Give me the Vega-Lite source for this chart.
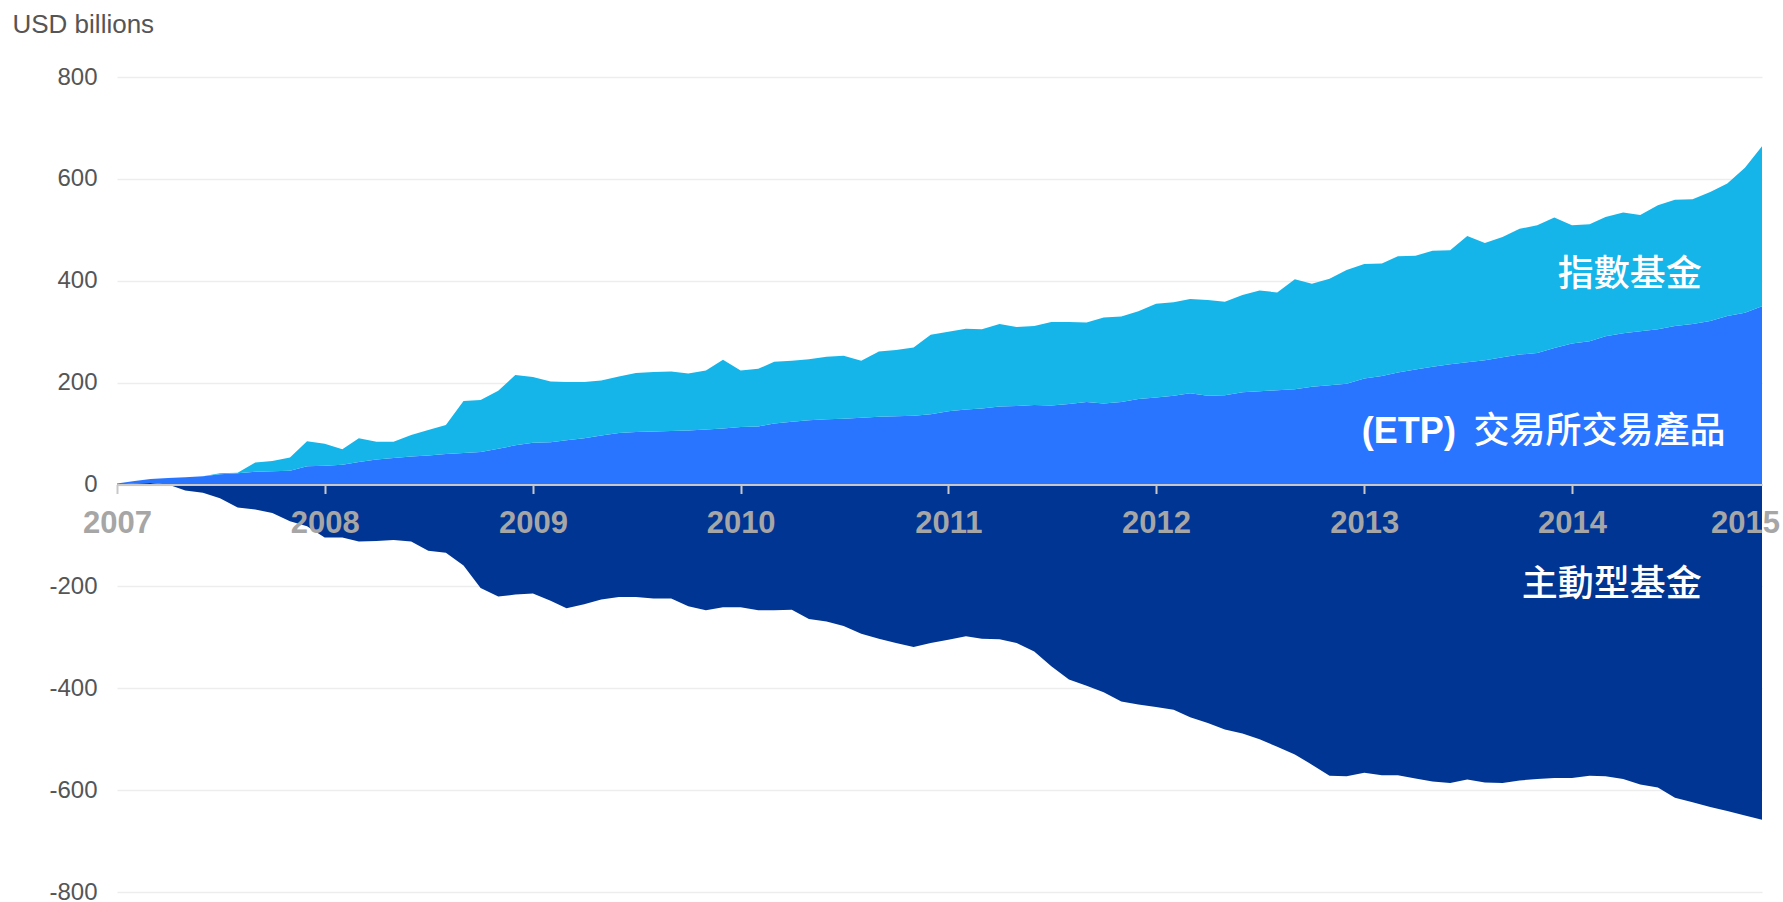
{
  "$schema": "https://vega.github.io/schema/vega-lite/v6.json",
  "width": 1645,
  "height": 815,
  "autosize": {"type": "none"},
  "padding": {"left": 117, "top": 77, "right": 21, "bottom": 10},
  "background": "white",
  "config": {"view": {"stroke": null}, "font": "Liberation Sans"},
  "encoding": {
    "x": {
      "field": "d",
      "type": "temporal",
      "scale": {"domain": [{"year": 2007, "month": 1, "date": 1}, {"year": 2014, "month": 12, "date": 1}]},
      "axis": {
        "values": [
          {"year": 2007, "month": 1, "date": 1},
          {"year": 2008, "month": 1, "date": 1},
          {"year": 2009, "month": 1, "date": 1},
          {"year": 2010, "month": 1, "date": 1},
          {"year": 2011, "month": 1, "date": 1},
          {"year": 2012, "month": 1, "date": 1},
          {"year": 2013, "month": 1, "date": 1},
          {"year": 2014, "month": 1, "date": 1},
          {"year": 2014, "month": 11, "date": 1}
        ],
        "title": null,
        "offset": -407.5,
        "zindex": 1,
        "grid": false,
        "domainColor": "#c8c8c8",
        "domainWidth": 2,
        "tickColor": "#c8c8c8",
        "tickWidth": 2,
        "tickSize": 9,
        "tickOpacity": {"condition": {"test": "month(datum.value) == 10", "value": 0}, "value": 1},
        "labelFont": "Liberation Sans",
        "labelFontSize": 31,
        "labelFontWeight": "bold",
        "labelColor": "#a6a6a6",
        "labelBaseline": "alphabetic",
        "labelAlign": "center",
        "labelPadding": 39,
        "labelOverlap": false,
        "labelFlush": false,
        "labelBound": false,
        "labelExpr": "month(datum.value) == 10 ? '2015' : timeFormat(datum.value, '%Y')"
      }
    },
    "y": {
      "field": "value",
      "type": "quantitative",
      "scale": {"domain": [-800, 800]},
      "axis": {
        "values": [-800, -600, -400, -200, 0, 200, 400, 600, 800],
        "labelExpr": "toString(datum.value)",
        "title": "USD billions",
        "titleAngle": 0,
        "titleAlign": "left",
        "titleBaseline": "alphabetic",
        "titleX": -105,
        "titleY": -45,
        "titleFont": "Liberation Sans",
        "titleFontSize": 26,
        "titleFontWeight": "normal",
        "titleColor": "#555555",
        "domain": false,
        "ticks": false,
        "tickSize": 0,
        "labelPadding": 20,
        "labelFont": "Liberation Sans",
        "labelFontSize": 24,
        "labelColor": "#555555",
        "gridColor": "#ededed",
        "gridWidth": 1.5,
        "zindex": 0
      }
    }
  },
  "layer": [
    {
      "data": {
        "values": [
          {"d": "2007/01/01", "etp": 2, "index": 0, "active": 0},
          {"d": "2007/02/01", "etp": 5, "index": 0, "active": 2},
          {"d": "2007/03/01", "etp": 8, "index": 0, "active": 3},
          {"d": "2007/04/01", "etp": 13, "index": 0, "active": 0},
          {"d": "2007/05/01", "etp": 14, "index": 0, "active": -12},
          {"d": "2007/06/01", "etp": 16, "index": 0, "active": -16},
          {"d": "2007/07/01", "etp": 20, "index": 2, "active": -27},
          {"d": "2007/08/01", "etp": 22, "index": 1, "active": -45},
          {"d": "2007/09/01", "etp": 25, "index": 18, "active": -49},
          {"d": "2007/10/01", "etp": 26, "index": 20, "active": -56},
          {"d": "2007/11/01", "etp": 27, "index": 26, "active": -72},
          {"d": "2007/12/01", "etp": 36, "index": 49, "active": -82},
          {"d": "2008/01/01", "etp": 37, "index": 43, "active": -104},
          {"d": "2008/02/01", "etp": 39, "index": 30, "active": -104},
          {"d": "2008/03/01", "etp": 44, "index": 47, "active": -112},
          {"d": "2008/04/01", "etp": 49, "index": 35, "active": -111},
          {"d": "2008/05/01", "etp": 52, "index": 32, "active": -109},
          {"d": "2008/06/01", "etp": 55, "index": 42, "active": -112},
          {"d": "2008/07/01", "etp": 57, "index": 50, "active": -130},
          {"d": "2008/08/01", "etp": 60, "index": 57, "active": -134},
          {"d": "2008/09/01", "etp": 62, "index": 102, "active": -159},
          {"d": "2008/10/01", "etp": 64, "index": 102, "active": -203},
          {"d": "2008/11/01", "etp": 70, "index": 114, "active": -220},
          {"d": "2008/12/01", "etp": 77, "index": 138, "active": -216},
          {"d": "2009/01/01", "etp": 82, "index": 129, "active": -214},
          {"d": "2009/02/01", "etp": 83, "index": 119, "active": -228},
          {"d": "2009/03/01", "etp": 87, "index": 114, "active": -243},
          {"d": "2009/04/01", "etp": 91, "index": 110, "active": -235},
          {"d": "2009/05/01", "etp": 96, "index": 108, "active": -226},
          {"d": "2009/06/01", "etp": 101, "index": 111, "active": -221},
          {"d": "2009/07/01", "etp": 103, "index": 116, "active": -221},
          {"d": "2009/08/01", "etp": 104, "index": 117, "active": -224},
          {"d": "2009/09/01", "etp": 105, "index": 117, "active": -224},
          {"d": "2009/10/01", "etp": 106, "index": 112, "active": -239},
          {"d": "2009/11/01", "etp": 108, "index": 116, "active": -247},
          {"d": "2009/12/01", "etp": 110, "index": 135, "active": -241},
          {"d": "2010/01/01", "etp": 113, "index": 111, "active": -241},
          {"d": "2010/02/01", "etp": 114, "index": 113, "active": -247},
          {"d": "2010/03/01", "etp": 120, "index": 121, "active": -247},
          {"d": "2010/04/01", "etp": 123, "index": 120, "active": -246},
          {"d": "2010/05/01", "etp": 126, "index": 120, "active": -264},
          {"d": "2010/06/01", "etp": 128, "index": 123, "active": -269},
          {"d": "2010/07/01", "etp": 129, "index": 124, "active": -278},
          {"d": "2010/08/01", "etp": 131, "index": 112, "active": -293},
          {"d": "2010/09/01", "etp": 133, "index": 128, "active": -303},
          {"d": "2010/10/01", "etp": 134, "index": 130, "active": -311},
          {"d": "2010/11/01", "etp": 135, "index": 134, "active": -319},
          {"d": "2010/12/01", "etp": 138, "index": 156, "active": -311},
          {"d": "2011/01/01", "etp": 144, "index": 156, "active": -305},
          {"d": "2011/02/01", "etp": 147, "index": 159, "active": -298},
          {"d": "2011/03/01", "etp": 149, "index": 156, "active": -303},
          {"d": "2011/04/01", "etp": 153, "index": 162, "active": -304},
          {"d": "2011/05/01", "etp": 154, "index": 155, "active": -311},
          {"d": "2011/06/01", "etp": 156, "index": 155, "active": -328},
          {"d": "2011/07/01", "etp": 155, "index": 164, "active": -357},
          {"d": "2011/08/01", "etp": 158, "index": 161, "active": -383},
          {"d": "2011/09/01", "etp": 162, "index": 156, "active": -395},
          {"d": "2011/10/01", "etp": 159, "index": 169, "active": -408},
          {"d": "2011/11/01", "etp": 162, "index": 168, "active": -426},
          {"d": "2011/12/01", "etp": 168, "index": 172, "active": -432},
          {"d": "2012/01/01", "etp": 171, "index": 184, "active": -437},
          {"d": "2012/02/01", "etp": 174, "index": 184, "active": -442},
          {"d": "2012/03/01", "etp": 179, "index": 185, "active": -457},
          {"d": "2012/04/01", "etp": 174, "index": 188, "active": -468},
          {"d": "2012/05/01", "etp": 175, "index": 184, "active": -481},
          {"d": "2012/06/01", "etp": 181, "index": 191, "active": -489},
          {"d": "2012/07/01", "etp": 183, "index": 198, "active": -500},
          {"d": "2012/08/01", "etp": 185, "index": 192, "active": -515},
          {"d": "2012/09/01", "etp": 187, "index": 216, "active": -530},
          {"d": "2012/10/01", "etp": 192, "index": 202, "active": -550},
          {"d": "2012/11/01", "etp": 195, "index": 209, "active": -572},
          {"d": "2012/12/01", "etp": 198, "index": 223, "active": -573},
          {"d": "2013/01/01", "etp": 208, "index": 225, "active": -566},
          {"d": "2013/02/01", "etp": 213, "index": 221, "active": -571},
          {"d": "2013/03/01", "etp": 220, "index": 228, "active": -571},
          {"d": "2013/04/01", "etp": 226, "index": 223, "active": -577},
          {"d": "2013/05/01", "etp": 231, "index": 228, "active": -583},
          {"d": "2013/06/01", "etp": 236, "index": 224, "active": -586},
          {"d": "2013/07/01", "etp": 240, "index": 248, "active": -579},
          {"d": "2013/08/01", "etp": 244, "index": 230, "active": -585},
          {"d": "2013/09/01", "etp": 250, "index": 236, "active": -586},
          {"d": "2013/10/01", "etp": 255, "index": 247, "active": -581},
          {"d": "2013/11/01", "etp": 258, "index": 251, "active": -578},
          {"d": "2013/12/01", "etp": 268, "index": 256, "active": -576},
          {"d": "2014/01/01", "etp": 277, "index": 232, "active": -576},
          {"d": "2014/02/01", "etp": 281, "index": 230, "active": -572},
          {"d": "2014/03/01", "etp": 291, "index": 234, "active": -573},
          {"d": "2014/04/01", "etp": 297, "index": 237, "active": -578},
          {"d": "2014/05/01", "etp": 301, "index": 228, "active": -589},
          {"d": "2014/06/01", "etp": 305, "index": 243, "active": -595},
          {"d": "2014/07/01", "etp": 311, "index": 248, "active": -615},
          {"d": "2014/08/01", "etp": 315, "index": 245, "active": -624},
          {"d": "2014/09/01", "etp": 321, "index": 253, "active": -633},
          {"d": "2014/10/01", "etp": 331, "index": 260, "active": -641},
          {"d": "2014/11/01", "etp": 337, "index": 285, "active": -650},
          {"d": "2014/12/01", "etp": 350, "index": 314, "active": -658}
        ]
      },
      "transform": [{"fold": ["active", "etp", "index"], "as": ["series", "value"]}],
      "mark": {"type": "area", "interpolate": "linear"},
      "encoding": {
        "color": {
          "field": "series",
          "type": "nominal",
          "scale": {"domain": ["active", "etp", "index"], "range": ["#003594", "#2975FF", "#15B5E9"]},
          "legend": null
        },
        "order": {"field": "series", "sort": "ascending"}
      }
    },
    {
      "data": {
        "values": [
          {"d": "2014/08/17", "value": 411, "t": "指數基金"},
          {"d": "2014/09/28", "value": 103, "t": "交易所交易產品"},
          {"d": "2014/08/17", "value": -197, "t": "主動型基金"}
        ]
      },
      "mark": {"type": "text", "align": "right", "baseline": "middle", "font": "Noto Sans CJK TC", "fontSize": 36, "fontWeight": 500, "color": "#ffffff"},
      "encoding": {"text": {"field": "t", "type": "nominal"}}
    },
    {
      "data": {
        "values": [
          {"d": "2013/06/11", "value": 103, "t": "(ETP)"}
        ]
      },
      "mark": {"type": "text", "align": "right", "baseline": "middle", "font": "Liberation Sans", "fontSize": 36, "fontWeight": "bold", "color": "#ffffff"},
      "encoding": {"text": {"field": "t", "type": "nominal"}}
    }
  ]
}
